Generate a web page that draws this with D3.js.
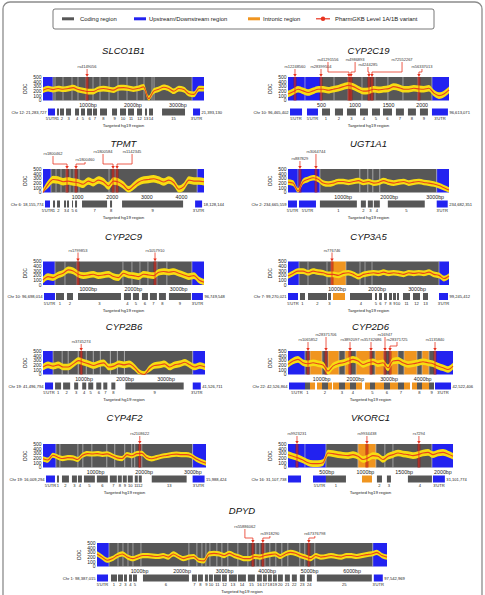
<!DOCTYPE html>
<html>
<head>
<meta charset="utf-8">
<script src="https://cdn.jsdelivr.net/npm/d3@7"></script>
<style>
  body { margin: 0; background: #fff; }
  svg { display: block; font-family: "Liberation Sans", Arial, sans-serif; }
</style>
</head>
<body>
<svg id="fig" width="485" height="595"></svg>
<script>
// ---- legend ----
const legendLabels = ['Coding region', 'Upstream/Downstream region', 'Intronic region', 'PharmGKB Level 1A/1B variant'];
const legendTypes = ['c', 'u', 'i', 'v'];

// ---- SLCO1B1 ----
const slcoSpan = [0, 3580];
const slcoSd = 60;
const slcoDoc = [217,254,232,254,239,254,275,232,210,190,190,240,254,240,220,268,275,260,240,260,290,40,200,240,283,254,196,254,232,145,130,254,250];
const slcoBg = [[0,'u'],[222,'c'],[267,'c'],[445,'c'],[645,'c'],[778,'c'],[956,'c'],[1112,'c'],[1268,'c'],[1468,'c'],[1668,'c'],[1868,'c'],[2090,'c'],[2246,'c'],[2424,'c'],[2469,'c'],[3314,'u']];
const slcoExons = [[111,267,'u',"5'UTR"],[311,356,'c','1'],[378,467,'c','2'],[512,623,'c','3'],[712,801,'c','4'],[845,934,'c','5'],[979,1090,'c','6'],[1112,1201,'c','7'],[1268,1423,'c','8'],[1535,1646,'c','9'],[1712,1846,'c','10'],[1890,2024,'c','11'],[2090,2202,'c','12'],[2268,2313,'c','13'],[2357,2446,'c','14'],[2647,3158,'c','15'],[3336,3492,'u',"3'UTR"]];
const slcoVars = [[980,'rs4149056',980,9]];
const slcoTicks = [1000, 2000, 3000];
const slcoChr = ['Chr 12: 21,283,727', '21,393,130'];

// ---- CYP2C19 ----
const c2c19Span = [0, 2400];
const c2c19Sd = 70;
const c2c19Doc = [137,185,240,205,171,205,240,240,219,240,260,295,322,295,240,199,205,240,226,240,253,295,274,240,240,260,247,240,260,158,103,137,226];
const c2c19Bg = [[0,'u'],[253,'u'],[492,'c'],[686,'c'],[894,'c'],[1103,'c'],[1297,'c'],[1490,'c'],[1714,'c'],[1937,'c'],[2146,'u']];
const c2c19Exons = [[30,209,'u',"5'UTR"],[283,447,'u',"5'UTR"],[507,626,'c','1'],[700,820,'c','2'],[879,1013,'c','3'],[1073,1192,'c','4'],[1252,1371,'c','5'],[1416,1550,'c','6'],[1609,1728,'c','7'],[1788,1907,'c','8'],[1967,2086,'c','9'],[2146,2384,'u',"3'UTR"]];
const c2c19Vars = [[104,'rs12248560',104,9],[492,'rs28399504',492,9],[909,'rs41291556',596,16],[939,'rs4986893',1000,16],[1207,'rs4244285',1192,11],[1252,'rs72552267',1700,16],[1952,'rs56337013',1997,9]];
const c2c19Ticks = [500, 1000, 1500, 2000];
const c2c19Chr = ['Chr 10: 96,465,402', '96,613,071'];

// ---- TPMT ----
const tpmtSpan = [0, 4650];
const tpmtSd = 80;
const tpmtDoc = [0,174,278,264,229,243,222,208,174,243,208,264,229,139,243,222,153,56,139,222,264,278,292,264,222,264,208,69,125,264,243,243,229];
const tpmtBg = [[0,'u'],[231,'c'],[376,'c'],[520,'c'],[665,'c'],[780,'c'],[896,'c'],[1040,'c'],[1907,'c'],[2081,'c'],[4451,'u']];
const tpmtExons = [[58,202,'u',"5'UTR"],[289,347,'c','1'],[405,491,'c','2'],[607,665,'c','3'],[694,751,'c','4'],[838,867,'c','5'],[925,983,'c','6'],[1127,1850,'c','7'],[1936,1994,'c','8'],[2283,4046,'c','9'],[4393,4595,'u',"3'UTR"]];
const tpmtVars = [[694,'rs1800462',289,14],[954,'rs1800460',1214,8],[2023,'rs1800584',1734,16],[2139,'rs1142345',2572,16]];
const tpmtTicks = [1000, 2000, 3000, 4000];
const tpmtChr = ['Chr 6: 18,155,774', '18,128,144'];

// ---- UGT1A1 ----
const ugtSpan = [-200, 3300];
const ugtSd = 60;
const ugtDoc = [220,200,33,233,280,313,280,200,180,200,233,233,213,233,253,213,233,200,213,253,220,200,220,233,200,220,233,213,200,180,147,100,53];
const ugtBg = [[-200,'u'],[17,'u'],[494,'c'],[1362,'c'],[1536,'c'],[1645,'c'],[1796,'c'],[3033,'u']];
const ugtExons = [[-200,-5,'u',"5'UTR"],[39,408,'u',"5'UTR"],[494,1297,'c','1'],[1384,1493,'c','2'],[1536,1645,'c','3'],[1666,1796,'c','4'],[1970,2773,'c','5'],[3033,3272,'u',"3'UTR"]];
const ugtVars = [[60,'rs887829',60,9],[408,'rs3064744',408,16]];
const ugtTicks = [1000, 2000, 3000];
const ugtChr = ['Chr 2: 234,665,559', '234,682,351'];

// ---- CYP2C9 ----
const c2c9Span = [0, 3560];
const c2c9Sd = 70;
const c2c9Doc = [107,179,157,214,250,321,300,229,200,214,229,200,214,229,179,157,250,214,200,179,229,214,200,271,286,271,286,250,214,179,200,107,57];
const c2c9Bg = [[0,'u'],[265,'c'],[486,'c'],[751,'c'],[1768,'c'],[1967,'c'],[2144,'c'],[2321,'c'],[2519,'c'],[2740,'c'],[3293,'u']];
const c2c9Exons = [[22,265,'u',"5'UTR"],[287,464,'c','1'],[530,663,'c','2'],[774,1724,'c','3'],[1790,1945,'c','4'],[1989,2122,'c','5'],[2188,2321,'c','6'],[2365,2519,'c','7'],[2564,2718,'c','8'],[2785,3271,'c','9'],[3293,3536,'u',"3'UTR"]];
const c2c9Vars = [[774,'rs1799853',774,10],[2477,'rs1057910',2477,10]];
const c2c9Ticks = [1000, 2000, 3000];
const c2c9Chr = ['Chr 10: 96,698,014', '96,749,548'];

// ---- CYP3A5 ----
const c3a5Span = [-225, 3800];
const c3a5Sd = 60;
const c3a5Doc = [192,247,295,295,260,295,274,260,226,226,205,247,260,226,178,226,247,260,247,274,247,260,247,226,260,247,260,247,274,226,205,137,192];
const c3a5Bg = [[-225,'u'],[50,'c'],[275,'c'],[750,'c'],[850,'i'],[1225,'c'],[1575,'c'],[1700,'c'],[1875,'c'],[3550,'u']];
const c3a5Exons = [[-225,25,'u',"5'UTR"],[75,200,'c','1'],[275,750,'c','2'],[775,850,'c','3'],[900,1200,'i',''],[1325,1875,'c','4'],[1950,2000,'c','5'],[2050,2125,'c','6'],[2175,2250,'c','7'],[2300,2375,'c','8'],[2400,2475,'c','9'],[2500,2550,'c','10'],[2650,2825,'c','11'],[2900,3075,'c','12'],[3150,3275,'c','13'],[3550,3775,'u',"3'UTR"]];
const c3a5Vars = [[875,'rs776746',875,10]];
const c3a5Ticks = [1000, 2000, 3000];
const c3a5Chr = ['Chr 7: 99,270,021', '99,245,412'];

// ---- CYP2B6 ----
const c2b6Span = [0, 3950];
const c2b6Sd = 70;
const c2b6Doc = [158,205,178,205,158,158,226,295,260,226,192,226,247,158,178,226,205,226,158,41,0,123,192,205,226,158,205,226,260,205,158,192,158];
const c2b6Bg = [[0,'u'],[245,'c'],[466,'c'],[613,'c'],[858,'c'],[1054,'c'],[1225,'c'],[1397,'c'],[1642,'c'],[1813,'c'],[1985,'c'],[3651,'u']];
const c2b6Exons = [[49,245,'u',"5'UTR"],[294,441,'c','1'],[490,662,'c','2'],[760,858,'c','3'],[956,1054,'c','4'],[1103,1225,'c','5'],[1299,1421,'c','6'],[1470,1568,'c','7'],[1666,1764,'c','8'],[2009,3430,'c','9'],[3651,3847,'u',"3'UTR"]];
const c2b6Vars = [[931,'rs3745274',931,8]];
const c2b6Ticks = [1000, 2000, 3000];
const c2b6Chr = ['Chr 19: 41,496,794', '41,526,711'];

// ---- CYP2D6 ----
const c2d6Span = [0, 4900];
const c2d6Sd = 70;
const c2d6Doc = [214,286,321,250,229,250,229,200,71,179,229,250,286,321,286,214,250,271,229,250,143,286,300,250,214,229,250,271,250,229,179,143,107,179];
const c2d6Bg = [[0,'u'],[505,'c'],[653,'i'],[1010,'c'],[1188,'i'],[1515,'c'],[1693,'i'],[1841,'c'],[2020,'i'],[2435,'c'],[2584,'i'],[2851,'c'],[3029,'i'],[3267,'c'],[3445,'i'],[3831,'c'],[3980,'i'],[4188,'c'],[4366,'u']];
const c2d6Exons = [[30,505,'u',"5'UTR"],[505,653,'c','1'],[653,802,'i',''],[861,1010,'i',''],[1010,1188,'c','2'],[1188,1307,'i',''],[1337,1515,'i',''],[1515,1693,'c','3'],[1693,1841,'i',''],[1841,2020,'c','4'],[2020,2198,'i',''],[2287,2435,'i',''],[2435,2584,'c','5'],[2584,2851,'i',''],[2851,3029,'c','6'],[3029,3267,'i',''],[3267,3445,'c','7'],[3445,3623,'i',''],[3683,3831,'i',''],[3831,3980,'c','8'],[3980,4188,'i',''],[4188,4336,'c','9'],[4366,4841,'u',"3'UTR"]];
const c2d6Vars = [[594,'rs1065852',594,10],[1129,'rs28371706',1129,15],[1842,'rs3892097',1842,10],[2465,'rs35742686',2465,10],[2881,'rs16947',2881,15],[3030,'rs28371725',3237,10],[4366,'rs1135840',4366,10]];
const c2d6Ticks = [1000, 2000, 3000, 4000];
const c2d6Chr = ['Chr 22: 42,526,864', '42,522,406'];

// ---- CYP4F2 ----
const c4f2Span = [-80, 3270];
const c4f2Sd = 55;
const c4f2Doc = [185,158,260,220,190,210,205,171,260,295,288,295,280,290,250,205,190,274,250,295,300,215,185,210,240,255,275,285,274,274,250,180,130,90];
const c4f2Bg = [[-80,'u'],[186,'c'],[268,'c'],[638,'c'],[740,'c'],[925,'c'],[1232,'c'],[1396,'c'],[1601,'c'],[1745,'c'],[1806,'c'],[1950,'c'],[2995,'u']];
const c4f2Exons = [[-18,166,'u',"5'UTR"],[207,248,'c','1'],[310,453,'c','2'],[515,617,'c','3'],[638,720,'c','4'],[761,986,'c','5'],[1027,1253,'c','6'],[1294,1437,'c','7'],[1458,1540,'c','8'],[1560,1642,'c','9'],[1663,1765,'c','10'],[1806,1868,'c','11'],[1888,1950,'c','12'],[2155,2872,'c','13'],[2995,3241,'u',"3'UTR"]];
const c4f2Vars = [[1909,'rs2108622',1909,9]];
const c4f2Ticks = [1000, 2000, 3000];
const c4f2Chr = ['Chr 19: 16,009,294', '15,988,424'];

// ---- VKORC1 ----
const vkSpan = [0, 2130];
const vkSd = 70;
const vkDoc = [274,240,205,158,103,82,82,103,308,295,274,260,253,274,240,171,205,253,240,171,240,274,308,288,274,253,274,308,322,274,308,322,288,240];
const vkBg = [[0,'u'],[219,'u'],[490,'c'],[903,'i'],[1135,'c'],[1251,'c'],[1355,'c'],[1858,'u']];
const vkExons = [[0,168,'u',''],[323,490,'u',"5'UTR"],[490,748,'c','1'],[955,1084,'i',''],[1148,1213,'c','2'],[1277,1329,'c','3'],[1548,1858,'c','4'],[1871,2025,'u',"3'UTR"]];
const vkVars = [[116,'rs9923231',116,9],[1019,'rs9934438',1019,9],[1690,'rs7294',1690,9]];
const vkTicks = [500, 1000, 1500, 2000];
const vkChr = ['Chr 16: 31,107,738', '31,101,774'];

// ---- DPYD ----
const dpydSpan = [0, 6820];
const dpydSd = 55;
const dpydDoc = [267,200,133,167,233,267,200,167,200,233,233,220,213,233,200,267,213,167,200,213,133,120,267,280,267,233,280,233,200,167,167,213,200,233,253,267,213,267,300,280,233,200,167,233,200,213,233,213,200,233,233,213,233,253,267,300,233,200];
const dpydBg = [[0,'u'],[282,'c'],[494,'c'],[611,'c'],[729,'c'],[846,'c'],[1034,'c'],[2162,'c'],[2350,'c'],[2468,'c'],[2562,'c'],[2656,'c'],[2820,'c'],[2938,'c'],[3078,'c'],[3314,'c'],[3549,'c'],[3737,'c'],[3831,'c'],[3948,'c'],[4066,'c'],[4207,'c'],[4348,'c'],[4489,'c'],[4771,'c'],[4888,'c'],[5123,'c'],[6486,'u']];
const dpydExons = [[0,259,'u',"5'UTR"],[329,470,'c','1'],[494,611,'c','2'],[635,705,'c','3'],[752,823,'c','4'],[846,940,'c','5'],[1081,2162,'c','6'],[2233,2350,'c','7'],[2374,2491,'c','8'],[2538,2609,'c','9'],[2632,2726,'c','10'],[2750,2914,'c','11'],[2938,3055,'c','12'],[3102,3290,'c','13'],[3314,3502,'c','14'],[3549,3713,'c','15'],[3760,3878,'c','16'],[3901,3995,'c','17'],[4019,4113,'c','18'],[4136,4230,'c','19'],[4254,4371,'c','20'],[4418,4536,'c','21'],[4583,4700,'c','22'],[4771,4888,'c','23'],[4935,5053,'c','24'],[5170,6463,'c','25'],[6510,6721,'u',"3'UTR"]];
const dpydVars = [[3666,'rs55886062',3478,15],[3901,'rs3918290',4066,8],[4982,'rs67376798',5123,8]];
const dpydTicks = [1000, 2000, 3000, 4000, 5000, 6000];
const dpydChr = ['Chr 1: 98,387,015', '97,542,969'];

const panels = [
  {gene: 'SLCO1B1', span: slcoSpan, sd: slcoSd, doc: slcoDoc, bg: slcoBg, exons: slcoExons, vars: slcoVars, ticks: slcoTicks, unit: 'bp', chr: slcoChr},
  {gene: 'CYP2C19', span: c2c19Span, sd: c2c19Sd, doc: c2c19Doc, bg: c2c19Bg, exons: c2c19Exons, vars: c2c19Vars, ticks: c2c19Ticks, unit: '', chr: c2c19Chr},
  {gene: 'TPMT', span: tpmtSpan, sd: tpmtSd, doc: tpmtDoc, bg: tpmtBg, exons: tpmtExons, vars: tpmtVars, ticks: tpmtTicks, unit: '', chr: tpmtChr},
  {gene: 'UGT1A1', span: ugtSpan, sd: ugtSd, doc: ugtDoc, bg: ugtBg, exons: ugtExons, vars: ugtVars, ticks: ugtTicks, unit: 'bp', chr: ugtChr},
  {gene: 'CYP2C9', span: c2c9Span, sd: c2c9Sd, doc: c2c9Doc, bg: c2c9Bg, exons: c2c9Exons, vars: c2c9Vars, ticks: c2c9Ticks, unit: 'bp', chr: c2c9Chr},
  {gene: 'CYP3A5', span: c3a5Span, sd: c3a5Sd, doc: c3a5Doc, bg: c3a5Bg, exons: c3a5Exons, vars: c3a5Vars, ticks: c3a5Ticks, unit: 'bp', chr: c3a5Chr},
  {gene: 'CYP2B6', span: c2b6Span, sd: c2b6Sd, doc: c2b6Doc, bg: c2b6Bg, exons: c2b6Exons, vars: c2b6Vars, ticks: c2b6Ticks, unit: 'bp', chr: c2b6Chr},
  {gene: 'CYP2D6', span: c2d6Span, sd: c2d6Sd, doc: c2d6Doc, bg: c2d6Bg, exons: c2d6Exons, vars: c2d6Vars, ticks: c2d6Ticks, unit: 'bp', chr: c2d6Chr},
  {gene: 'CYP4F2', span: c4f2Span, sd: c4f2Sd, doc: c4f2Doc, bg: c4f2Bg, exons: c4f2Exons, vars: c4f2Vars, ticks: c4f2Ticks, unit: 'bp', chr: c4f2Chr},
  {gene: 'VKORC1', span: vkSpan, sd: vkSd, doc: vkDoc, bg: vkBg, exons: vkExons, vars: vkVars, ticks: vkTicks, unit: 'bp', chr: vkChr},
  {gene: 'DPYD', span: dpydSpan, sd: dpydSd, doc: dpydDoc, bg: dpydBg, exons: dpydExons, vars: dpydVars, ticks: dpydTicks, unit: 'bp', chr: dpydChr},
];

// where each panel sits on the page
const layout = {
  SLCO1B1: {x0: 43, x1: 204, title: 53.5, top: 77},
  CYP2C19: {x0: 288, x1: 449, title: 53.5, top: 77},
  TPMT:    {x0: 43, x1: 204, title: 146.5, top: 169},
  UGT1A1:  {x0: 288, x1: 449, title: 146.5, top: 169},
  CYP2C9:  {x0: 43, x1: 204, title: 239.5, top: 261.5},
  CYP3A5:  {x0: 288, x1: 449, title: 239.5, top: 261.5},
  CYP2B6:  {x0: 43, x1: 205, title: 329.5, top: 351},
  CYP2D6:  {x0: 288, x1: 453, title: 329.5, top: 351},
  CYP4F2:  {x0: 43, x1: 206, title: 420.5, top: 444},
  VKORC1:  {x0: 288, x1: 453, title: 420.5, top: 444},
  DPYD:    {x0: 97, x1: 387, title: 513.5, top: 543},
};

const COL = {c: '#575757', u: '#2222f0', i: '#f0951f'};
const RED = '#e8321e';
const svg = d3.select('#fig');

// outer frame
svg.append('rect')
  .attr('x', 3).attr('y', 2).attr('width', 479).attr('height', 640).attr('rx', 7)
  .attr('fill', 'none').attr('stroke', '#8c8c8c').attr('stroke-width', 1.3);

// legend
const lg = svg.append('g');
lg.append('rect').attr('x', 53).attr('y', 9).attr('width', 381).attr('height', 20).attr('rx', 2)
  .attr('fill', '#fff').attr('stroke', '#555').attr('stroke-width', 0.8);
const swatchX = [62, 134, 248, 316];
const labelX = [80, 149, 263, 335];
legendTypes.forEach((t, i) => {
  if (t === 'v') {
    lg.append('line').attr('x1', swatchX[i]).attr('x2', swatchX[i] + 14).attr('y1', 18.8).attr('y2', 18.8)
      .attr('stroke', RED).attr('stroke-width', 1.2);
    lg.append('circle').attr('cx', swatchX[i] + 7).attr('cy', 18.8).attr('r', 2.2).attr('fill', RED);
  } else {
    lg.append('rect').attr('x', swatchX[i]).attr('y', 17.3).attr('width', 12).attr('height', 3)
      .attr('fill', COL[t]);
  }
  lg.append('text').attr('x', labelX[i]).attr('y', 21).attr('font-size', 5.9).attr('fill', '#222')
    .text(legendLabels[i]);
});

function drawPanel(p) {
  const L = layout[p.gene];
  const bottom = L.top + 23.5;
  const x = d3.scaleLinear().domain(p.span).range([L.x0, L.x1]);
  const y = d3.scaleLinear().domain([0, 500]).range([bottom, L.top]);
  const g = svg.append('g');

  g.append('text')
    .attr('x', (L.x0 + L.x1) / 2).attr('y', L.title)
    .attr('text-anchor', 'middle').attr('font-size', 9.5).attr('font-style', 'italic').attr('fill', '#111')
    .text(p.gene);

  // background regions of the coverage plot
  const segs = p.bg.map((d, i) => ({
    start: d[0],
    end: i < p.bg.length - 1 ? p.bg[i + 1][0] : p.span[1],
    type: d[1]
  }));
  g.selectAll('rect.bg').data(segs).join('rect')
    .attr('class', 'bg')
    .attr('x', d => x(d.start)).attr('y', L.top)
    .attr('width', d => x(d.end) - x(d.start)).attr('height', bottom - L.top)
    .attr('fill', d => COL[d.type]);
  g.selectAll('line.sep').data(segs.slice(1)).join('line')
    .attr('class', 'sep')
    .attr('x1', d => x(d.start)).attr('x2', d => x(d.start))
    .attr('y1', L.top).attr('y2', bottom)
    .attr('stroke', '#c8c8c8').attr('stroke-width', 0.6);

  // variant highlight behind the coverage
  g.selectAll('rect.vband').data(p.vars).join('rect')
    .attr('class', 'vband')
    .attr('x', d => x(d[0]) - 1.6).attr('y', L.top).attr('width', 3.2).attr('height', bottom - L.top)
    .attr('fill', '#9a1010').attr('opacity', 0.5);

  // coverage: mean +/- sd band and mean line
  const step = (p.span[1] - p.span[0]) / (p.doc.length - 1);
  const pts = p.doc.map((v, i) => ({pos: p.span[0] + i * step, v}));
  const area = d3.area()
    .x(d => x(d.pos))
    .y0(d => y(Math.max(0, d.v - p.sd)))
    .y1(d => y(Math.min(500, d.v + p.sd)))
    .curve(d3.curveMonotoneX);
  g.append('path').datum(pts).attr('d', area).attr('fill', '#f7dc12');
  const line = d3.line().x(d => x(d.pos)).y(d => y(d.v)).curve(d3.curveMonotoneX);
  g.append('path').datum(pts).attr('d', line)
    .attr('fill', 'none').attr('stroke', '#e8441c').attr('stroke-width', 1.1);

  // variant lines through the plot
  g.selectAll('line.vline').data(p.vars).join('line')
    .attr('class', 'vline')
    .attr('x1', d => x(d[0])).attr('x2', d => x(d[0]))
    .attr('y1', L.top).attr('y2', bottom)
    .attr('stroke', RED).attr('stroke-width', 0.8);

  // variant labels and leader arrows
  p.vars.forEach(d => {
    const px = x(d[0]), lx = x(d[2]), ly = L.top - d[3];
    g.append('text').attr('x', lx).attr('y', ly).attr('text-anchor', 'middle')
      .attr('font-size', 4).attr('fill', '#333').text(d[1]);
    const elbow = L.top - 5;
    const path = Math.abs(px - lx) < 0.5
      ? `M${lx},${ly + 1}V${L.top - 2}`
      : `M${lx},${ly + 1}V${elbow}H${px}V${L.top - 2}`;
    g.append('path').attr('d', path).attr('fill', 'none').attr('stroke', RED).attr('stroke-width', 0.8);
    g.append('path').attr('d', `M${px - 1.7},${L.top - 3}L${px + 1.7},${L.top - 3}L${px},${L.top}Z`)
      .attr('fill', RED);
  });

  // y axis
  const yt = [0, 100, 200, 300, 400, 500];
  g.selectAll('text.yt').data(yt).join('text')
    .attr('class', 'yt')
    .attr('x', L.x0 - 1.5).attr('y', d => y(d) + 1.8)
    .attr('text-anchor', 'end').attr('font-size', 5).attr('fill', '#222')
    .text(d => d);
  g.append('text')
    .attr('transform', `translate(${L.x0 - 16.5},${(L.top + bottom) / 2}) rotate(-90)`)
    .attr('text-anchor', 'middle').attr('font-size', 4.6).attr('fill', '#222').text('DOC');

  // x ticks
  g.selectAll('text.xt').data(p.ticks).join('text')
    .attr('class', 'xt')
    .attr('x', d => x(d)).attr('y', bottom + 6.3)
    .attr('text-anchor', 'middle').attr('font-size', 5.3).attr('fill', '#222')
    .text(d => d + p.unit);

  // gene structure bar
  const barTop = bottom + 8, barH = 7;
  g.selectAll('rect.ex').data(p.exons).join('rect')
    .attr('class', 'ex')
    .attr('x', d => x(d[0])).attr('y', barTop)
    .attr('width', d => Math.max(0.8, x(d[1]) - x(d[0]))).attr('height', barH)
    .attr('fill', d => COL[d[2]]);
  g.selectAll('text.exl').data(p.exons.filter(d => d[3])).join('text')
    .attr('class', 'exl')
    .attr('x', d => (x(d[0]) + x(d[1])) / 2).attr('y', barTop + barH + 4.6)
    .attr('text-anchor', 'middle').attr('font-size', 4.1).attr('fill', '#222')
    .text(d => d[3]);

  const first = p.exons[0], last = p.exons[p.exons.length - 1];
  g.append('text').attr('x', x(first[0]) - 1.5).attr('y', barTop + barH / 2 + 1.5)
    .attr('text-anchor', 'end').attr('font-size', 4.1).attr('fill', '#222').text(p.chr[0]);
  g.append('text').attr('x', x(last[1]) + 1.5).attr('y', barTop + barH / 2 + 1.5)
    .attr('font-size', 4.1).attr('fill', '#222').text(p.chr[1]);

  g.append('text')
    .attr('x', (L.x0 + L.x1) / 2).attr('y', barTop + barH + 11.5)
    .attr('text-anchor', 'middle').attr('font-size', 4.4).attr('fill', '#222')
    .text('Targeted hg19 region');
}

panels.forEach(drawPanel);
</script>
</body>
</html>
